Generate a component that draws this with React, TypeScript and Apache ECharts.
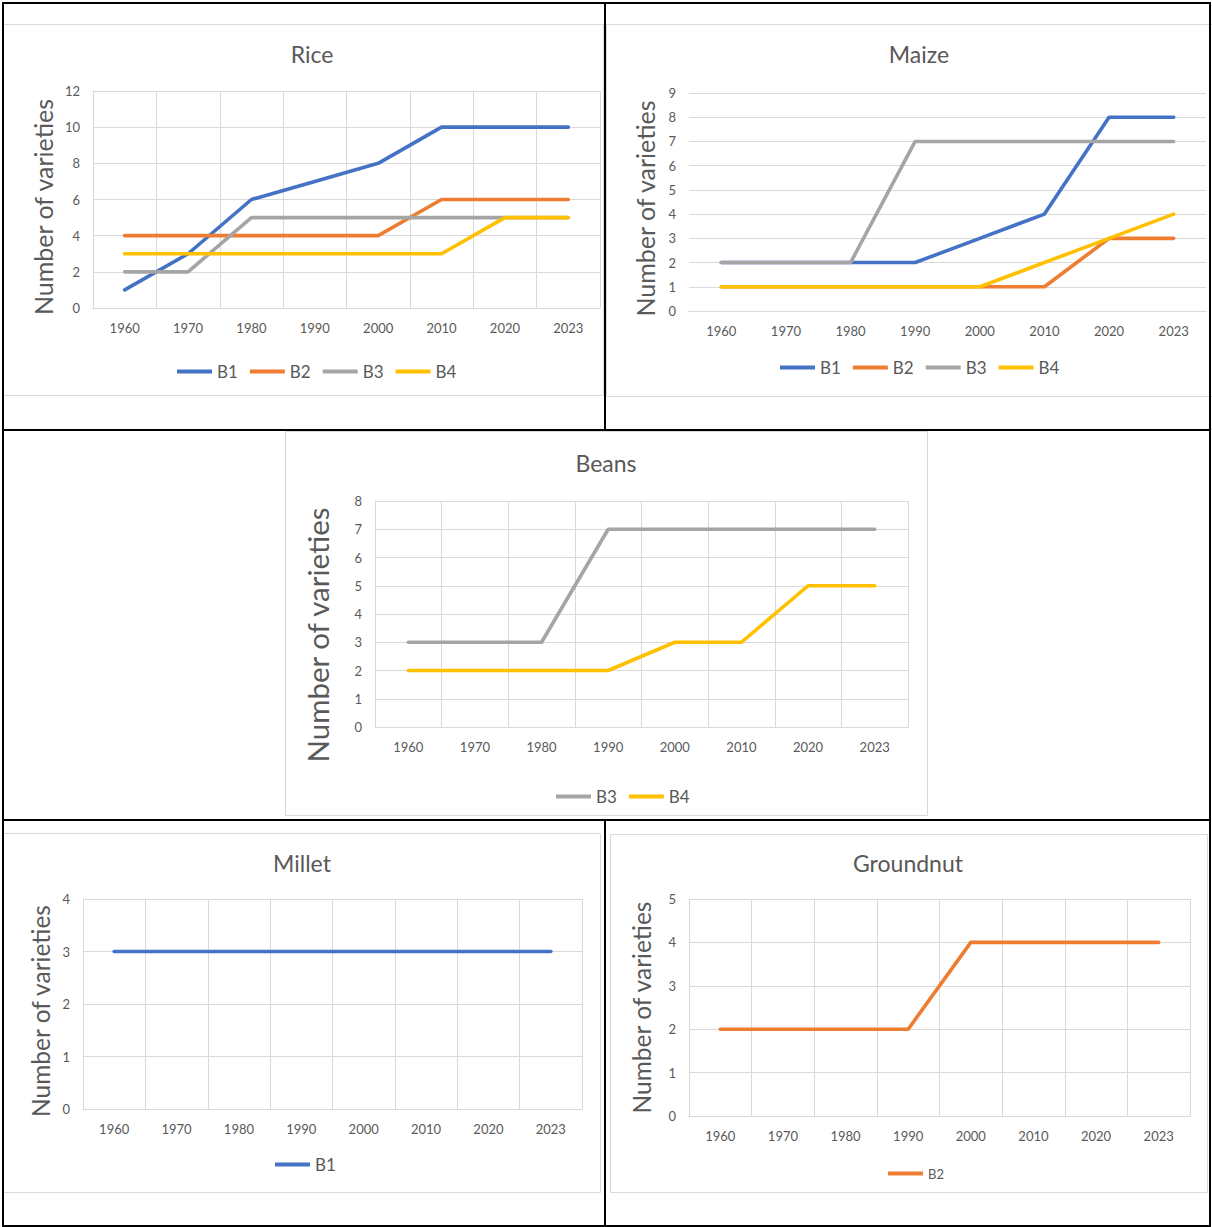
import React, { useEffect, useRef } from "react";
import * as echarts from "echarts";

// Years on every panel's category axis
const years = ["1960", "1970", "1980", "1990", "2000", "2010", "2020", "2023"];

// Rice: number of varieties per breeder
const riceB1 = [1, 3, 6, 7, 8, 10, 10, 10];
const riceB2 = [4, 4, 4, 4, 4, 6, 6, 6];
const riceB3 = [2, 2, 5, 5, 5, 5, 5, 5];
const riceB4 = [3, 3, 3, 3, 3, 3, 5, 5];

// Maize
const maizeB1 = [2, 2, 2, 2, 3, 4, 8, 8];
const maizeB2 = [1, 1, 1, 1, 1, 1, 3, 3];
const maizeB3 = [2, 2, 2, 7, 7, 7, 7, 7];
const maizeB4 = [1, 1, 1, 1, 1, 2, 3, 4];

// Beans
const beansB3 = [3, 3, 3, 7, 7, 7, 7, 7];
const beansB4 = [2, 2, 2, 2, 3, 3, 5, 5];

// Millet
const milletB1 = [3, 3, 3, 3, 3, 3, 3, 3];

// Groundnut
const groundnutB2 = [2, 2, 2, 2, 4, 4, 4, 4];

const COLORS: Record<string, string> = {
  B1: "#4472C4",
  B2: "#ED7D31",
  B3: "#A5A5A5",
  B4: "#FFC000",
};

const TEXT = "#595959";
const GRID_LINE = "#D9D9D9";
const FONT = "Lato, 'Open Sans', sans-serif";

type Panel = {
  title: string;
  titleX: number;
  titleY: number;
  grid: { left: number; top: number; width: number; height: number };
  yMax: number;
  yInterval: number;
  nameGap: number;
  nameSize: number;
  nameShift: number;
  vertical: boolean;
  series: { name: string; data: number[] }[];
  legendLeft: number;
  legendTop: number;
  legendSize: number;
  box: [number, number, number, number];
};

const panels: Panel[] = [
  {
    title: "Rice",
    titleX: 312,
    titleY: 54,
    grid: { left: 93, top: 91, width: 507, height: 217 },
    yMax: 12,
    yInterval: 2,
    nameGap: 38,
    nameSize: 25,
    nameShift: 15,
    vertical: true,
    series: [
      { name: "B1", data: riceB1 },
      { name: "B2", data: riceB2 },
      { name: "B3", data: riceB3 },
      { name: "B4", data: riceB4 },
    ],
    legendLeft: 177,
    legendTop: 363,
    legendSize: 17,
    box: [3, 24, 600, 371],
  },
  {
    title: "Maize",
    titleX: 919,
    titleY: 54,
    grid: { left: 689, top: 93, width: 517, height: 218 },
    yMax: 9,
    yInterval: 1,
    nameGap: 32,
    nameSize: 25,
    nameShift: 13,
    vertical: false,
    series: [
      { name: "B1", data: maizeB1 },
      { name: "B2", data: maizeB2 },
      { name: "B3", data: maizeB3 },
      { name: "B4", data: maizeB4 },
    ],
    legendLeft: 780,
    legendTop: 359,
    legendSize: 17,
    box: [606, 24, 606, 372],
  },
  {
    title: "Beans",
    titleX: 606,
    titleY: 463,
    grid: { left: 375, top: 501, width: 533, height: 226 },
    yMax: 8,
    yInterval: 1,
    nameGap: 43,
    nameSize: 29.5,
    nameShift: 42,
    vertical: true,
    series: [
      { name: "B3", data: beansB3 },
      { name: "B4", data: beansB4 },
    ],
    legendLeft: 556,
    legendTop: 788,
    legendSize: 17,
    box: [285, 431, 642, 384],
  },
  {
    title: "Millet",
    titleX: 302,
    titleY: 863,
    grid: { left: 83, top: 899, width: 499, height: 210 },
    yMax: 4,
    yInterval: 1,
    nameGap: 30,
    nameSize: 24.5,
    nameShift: 14,
    vertical: true,
    series: [{ name: "B1", data: milletB1 }],
    legendLeft: 275,
    legendTop: 1156,
    legendSize: 17,
    box: [3, 833, 597, 359],
  },
  {
    title: "Groundnut",
    titleX: 908,
    titleY: 863,
    grid: { left: 689, top: 899, width: 501, height: 217 },
    yMax: 5,
    yInterval: 1,
    nameGap: 35,
    nameSize: 24.5,
    nameShift: 0,
    vertical: true,
    series: [{ name: "B2", data: groundnutB2 }],
    legendLeft: 888,
    legendTop: 1167,
    legendSize: 13,
    box: [610, 834, 597, 358],
  },
];

function buildOption() {
  const grid: any[] = [];
  const xAxis: any[] = [];
  const yAxis: any[] = [];
  const series: any[] = [];
  const legend: any[] = [];
  const graphic: any[] = [];

  // Chart frames behind each panel
  panels.forEach((p) => {
    const [x, y, w, h] = p.box;
    graphic.push({
      type: "rect",
      z: -10,
      shape: { x: x + 0.5, y: y + 0.5, width: w, height: h },
      style: { fill: "none", stroke: GRID_LINE, lineWidth: 1 },
    });
  });

  // Black table rules around the panels
  const rules: [number, number, number, number][] = [
    [2, 3, 1211, 3],
    [2, 1226, 1211, 1226],
    [3, 2, 3, 1227],
    [1210, 2, 1210, 1227],
    [2, 430, 1211, 430],
    [2, 820, 1211, 820],
    [605, 2, 605, 430],
    [605, 820, 605, 1227],
  ];
  rules.forEach(([x1, y1, x2, y2]) => {
    graphic.push({
      type: "line",
      z: 100,
      shape: { x1, y1, x2, y2 },
      style: { stroke: "#000", lineWidth: 2 },
    });
  });

  panels.forEach((p, i) => {
    grid.push({ ...p.grid, containLabel: false });
    xAxis.push({
      type: "category",
      gridIndex: i,
      data: years,
      boundaryGap: true,
      axisLine: { show: true, lineStyle: { color: GRID_LINE, width: 1 } },
      axisTick: { show: false },
      axisLabel: { color: TEXT, fontSize: 13, fontFamily: FONT, margin: 13 },
      splitLine: { show: p.vertical, lineStyle: { color: GRID_LINE, width: 1 } },
    });
    yAxis.push({
      type: "value",
      gridIndex: i,
      min: 0,
      max: p.yMax,
      interval: p.yInterval,
      name: "Number of varieties",
      nameLocation: "middle",
      nameRotate: 90,
      nameGap: p.nameGap,
      nameTextStyle: {
        color: TEXT,
        fontSize: p.nameSize,
        fontFamily: FONT,
        // extra room at the end of the rotated title nudges it downward
        padding: [0, p.nameShift, 0, 0],
      },
      axisLine: { show: p.vertical, lineStyle: { color: GRID_LINE, width: 1 } },
      axisTick: { show: false },
      axisLabel: { color: TEXT, fontSize: 13, fontFamily: FONT, margin: 13 },
      splitLine: { show: true, lineStyle: { color: GRID_LINE, width: 1 } },
    });
    p.series.forEach((s) => {
      series.push({
        type: "line",
        name: s.name,
        xAxisIndex: i,
        yAxisIndex: i,
        data: s.data,
        symbol: "none",
        color: COLORS[s.name],
        lineStyle: { color: COLORS[s.name], width: 3.6, cap: "round", join: "round" },
        emphasis: { disabled: true },
        z: 3,
      });
    });
    legend.push({
      left: p.legendLeft,
      top: p.legendTop,
      orient: "horizontal",
      padding: 0,
      itemGap: 12,
      itemWidth: 35,
      itemHeight: 4,
      icon: "rect",
      selectedMode: false,
      data: p.series.map((s) => s.name),
      textStyle: { color: TEXT, fontSize: p.legendSize, fontFamily: FONT },
    });
    graphic.push({
      type: "text",
      x: p.titleX,
      y: p.titleY,
      style: {
        text: p.title,
        fill: TEXT,
        fontSize: 23,
        fontFamily: FONT,
        align: "center",
        verticalAlign: "middle",
        textAlign: "center",
        textVerticalAlign: "middle",
      },
    });
  });

  return {
    animation: false,
    backgroundColor: "#ffffff",
    grid,
    xAxis,
    yAxis,
    series,
    legend,
    graphic,
  };
}

export default function App() {
  const ref = useRef<HTMLDivElement>(null);

  useEffect(() => {
    if (!ref.current) return;
    const chart = echarts.init(ref.current, null, { renderer: "svg" });
    chart.setOption(buildOption());
    return () => chart.dispose();
  }, []);

  return (
    <div
      ref={ref}
      style={{ position: "absolute", left: 0, top: 0, width: 1212, height: 1227 }}
    />
  );
}
